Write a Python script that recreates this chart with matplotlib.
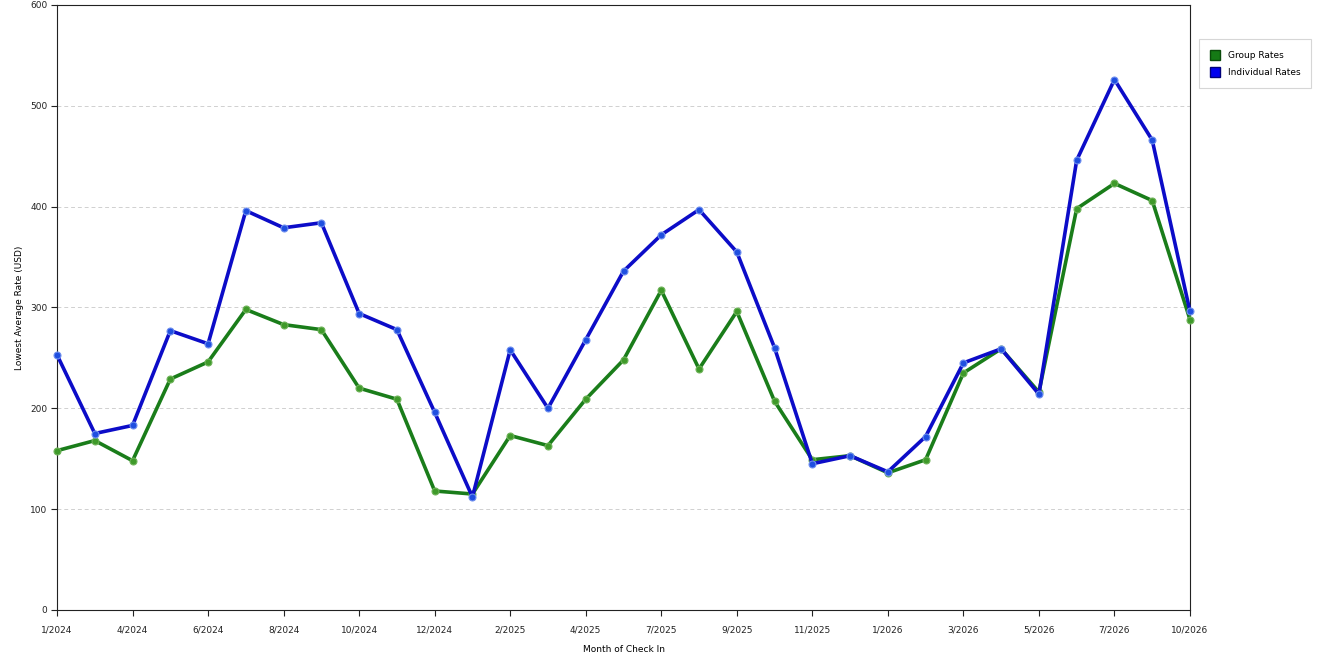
import matplotlib
matplotlib.use("Agg")
import matplotlib.pyplot as plt
from matplotlib.patches import Patch

# monthly lowest average rates, one point per category
tick_labels = ["1/2024", "4/2024", "6/2024", "8/2024", "10/2024", "12/2024",
               "2/2025", "4/2025", "7/2025", "9/2025", "11/2025", "1/2026",
               "3/2026", "5/2026", "7/2026", "10/2026"]

individual = [253, 175, 183, 277, 264, 396, 379, 384, 294, 278, 196, 112,
              258, 200, 268, 336, 372, 397, 355, 260, 145, 153, 137, 172,
              245, 259, 214, 446, 526, 466, 296]
group = [158, 168, 148, 229, 246, 298, 283, 278, 220, 209, 118, 115,
         173, 163, 209, 248, 317, 239, 296, 207, 149, 153, 136, 149,
         235, 259, 216, 398, 423, 406, 288]

x = list(range(len(individual)))

fig = plt.figure(figsize=(13.2, 6.6), dpi=100)
ax = fig.add_axes([0.0432, 0.0758, 0.8583, 0.9167])

ax.plot(x, group, color="#1a7d1a", lw=2.6, zorder=3, clip_on=False,
        marker="o", ms=5, mfc="#3f9a2a", mec="#6fb35a", mew=0.8)
ax.plot(x, individual, color="#0c0cc8", lw=2.6, zorder=4, clip_on=False,
        marker="o", ms=5, mfc="#1f4fe0", mec="#6f8fef", mew=0.8)

ax.set_xlim(0, len(x) - 1)
ax.set_ylim(0, 600)
ax.set_xticks(x[::2])
ax.set_xticklabels(tick_labels)
ax.set_yticks([0, 100, 200, 300, 400, 500, 600])
ax.tick_params(labelsize=6.5, length=4, width=0.8, colors="#222222")
ax.tick_params(axis="x", pad=7)
ax.tick_params(axis="y", pad=3)

for v in [100, 200, 300, 400, 500]:
    ax.axhline(v, color="#d0d0d0", lw=0.7, ls=(0, (4, 3)), zorder=1)

for s in ax.spines.values():
    s.set_color("#222222")
    s.set_linewidth(0.8)

ax.set_xlabel("Month of Check In", fontsize=6.5, labelpad=8)
ax.set_ylabel("Lowest Average Rate (USD)", fontsize=6.5, labelpad=4)

handles = [Patch(facecolor="#157a15", edgecolor="#0a4a0a", label="Group Rates"),
           Patch(facecolor="#0000ee", edgecolor="#00007a", label="Individual Rates")]
leg = fig.legend(handles=handles, loc="upper left", bbox_to_anchor=(0.9083, 0.941),
                 fontsize=6.5, frameon=True, fancybox=False, handlelength=1.1,
                 handleheight=1.3, borderpad=1.2, labelspacing=0.85, handletextpad=0.9,
                 borderaxespad=0)
leg.get_frame().set_edgecolor("#cccccc")
leg.get_frame().set_linewidth(0.8)

fig.savefig("out.png", dpi=100)
